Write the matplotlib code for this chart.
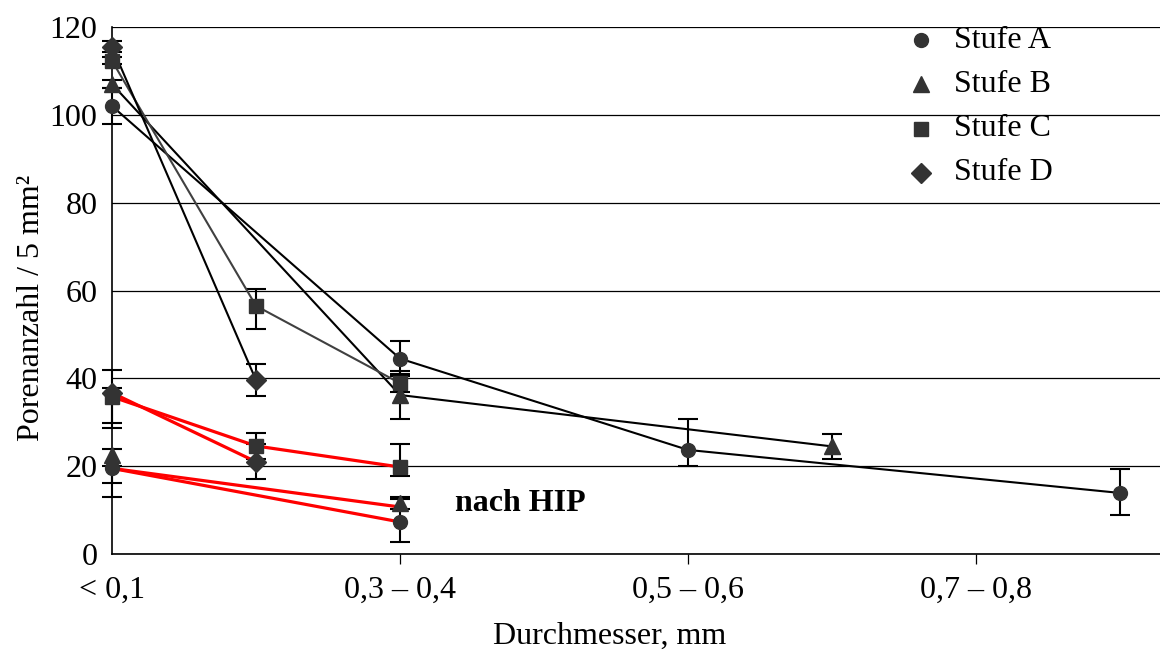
import matplotlib
matplotlib.use("Agg")
import matplotlib.pyplot as plt

plt.rcParams['font.family'] = ['Liberation Serif', 'DejaVu Serif']

# Category ticks on the diameter axis
tick_pos = [0, 2, 4, 6]
tick_labels = ['< 0,1', '0,3 – 0,4', '0,5 – 0,6', '0,7 – 0,8']
y_ticks = [0, 20, 40, 60, 80, 100, 120]

series_names = ['Stufe A', 'Stufe B', 'Stufe C', 'Stufe D']

# Before HIP: positions, pore counts, lower / upper error
a_x = [0, 2, 4, 7]
a_y = [102.0, 44.5, 23.7, 13.9]
a_lo = [4.0, 4.0, 3.6, 5.0]
a_hi = [4.0, 4.0, 7.0, 5.5]

b_x = [0, 2, 5]
b_y = [107.0, 36.2, 24.5]
b_lo = [1.0, 5.5, 2.8]
b_hi = [1.0, 5.5, 2.8]

c_x = [0, 1, 2]
c_y = [112.3, 56.5, 38.9]
c_lo = [0.8, 5.2, 2.0]
c_hi = [0.8, 3.9, 2.0]

d_x = [0, 1]
d_y = [115.5, 39.6]
d_lo = [1.2, 3.7]
d_hi = [1.2, 3.7]

# After HIP
ha_x = [0, 2]
ha_y = [19.5, 7.3]
ha_lo = [6.6, 4.6]
ha_hi = [0.5, 5.2]

hb_x = [0, 2]
hb_y = [22.6, 11.6]
hb_lo = [6.4, 1.3]
hb_hi = [1.2, 1.4]
hb_line = [19.5, 10.7]

hc_x = [0, 1, 2]
hc_y = [35.8, 24.6, 19.8]
hc_lo = [6.0, 3.0, 2.0]
hc_hi = [6.0, 3.0, 5.3]

hd_x = [0, 1]
hd_y = [36.7, 21.0]
hd_lo = [8.0, 4.0]
hd_hi = [1.0, 4.0]

W, H = 1160, 651
fig = plt.figure(figsize=(W / 100, H / 100), dpi=100)
ax = fig.add_axes([112 / W, 97 / H, 1048 / W, 527 / H])
ax.set_xlim(0, 1048 / 144)
ax.set_ylim(0, 120)

FS = 23
mk_col = '#333333'

# grid and axes
ax.set_yticks(y_ticks)
ax.set_yticklabels([str(v) for v in y_ticks], fontsize=FS)
ax.yaxis.grid(True, color='black', lw=0.9, zorder=0)
ax.set_axisbelow(True)
ax.tick_params(axis='y', length=0, pad=10.5)
ax.set_xticks(tick_pos)
ax.set_xticklabels(tick_labels, fontsize=FS)
ax.tick_params(axis='x', length=7, width=0.9, pad=9, direction='out')
ax.xaxis.get_major_ticks()[0].tick1line.set_visible(False)
for s in ['top', 'right']:
    ax.spines[s].set_visible(False)
for s in ['left', 'bottom']:
    ax.spines[s].set_linewidth(1.2)

# error bars
eb = dict(fmt='none', ecolor='black', elinewidth=1.5, capsize=7, capthick=1.5,
          clip_on=False, zorder=3)
for x, y, lo, hi in [(a_x, a_y, a_lo, a_hi), (b_x, b_y, b_lo, b_hi),
                     (c_x, c_y, c_lo, c_hi), (d_x, d_y, d_lo, d_hi),
                     (ha_x, ha_y, ha_lo, ha_hi), (hb_x, hb_y, hb_lo, hb_hi),
                     (hc_x, hc_y, hc_lo, hc_hi), (hd_x, hd_y, hd_lo, hd_hi)]:
    ax.errorbar(x, y, yerr=[lo, hi], **eb)

# connecting lines, before HIP
ax.plot(a_x, a_y, color='black', lw=1.5, zorder=4, clip_on=False)
ax.plot(b_x, b_y, color='black', lw=1.5, zorder=4, clip_on=False)
ax.plot(c_x, c_y, color='#404040', lw=1.5, zorder=4, clip_on=False)
ax.plot(d_x, d_y, color='black', lw=1.5, zorder=4, clip_on=False)

# connecting lines, after HIP
red = '#ff0000'
ax.plot(ha_x, ha_y, color=red, lw=2.3, zorder=4, clip_on=False)
ax.plot(hb_x, hb_line, color=red, lw=2.3, zorder=4, clip_on=False)
ax.plot(hc_x, hc_y, color=red, lw=2.3, zorder=4, clip_on=False)
ax.plot(hd_x, hd_y, color=red, lw=2.3, zorder=4, clip_on=False)

# markers
markers = ['o', '^', 's', 'D']
sizes = [10, 11, 10, 10]
for (x, y), m, ms in zip([(a_x, a_y), (b_x, b_y), (c_x, c_y), (d_x, d_y)], markers, sizes):
    ax.plot(x, y, ls='none', marker=m, ms=ms, color=mk_col, zorder=5, clip_on=False)
for (x, y), m, ms in zip([(ha_x, ha_y), (hb_x, hb_y), (hc_x, hc_y), (hd_x, hd_y)], markers, sizes):
    ax.plot(x, y, ls='none', marker=m, ms=ms, color=mk_col, zorder=5, clip_on=False)

ax.text(2.38, 11.4, 'nach HIP', fontsize=FS, fontweight='bold', va='center', ha='left')

# legend
leg_ms = [10, 11, 10, 10]
for i, (name, m, ms) in enumerate(zip(series_names, markers, leg_ms)):
    yy = 1 - (40 + 44.3 * i) / H
    fig.lines.append(plt.Line2D([921 / W], [yy], marker=m, ms=ms, color=mk_col,
                                ls='none', transform=fig.transFigure))
    fig.text(954 / W, yy, name, fontsize=FS, va='center', ha='left')

fig.text(610 / W, 1 - 636 / H, 'Durchmesser, mm', fontsize=FS, ha='center', va='center')
fig.text(32 / W, 1 - 308 / H, 'Porenanzahl / 5 mm²', fontsize=FS, rotation=90,
         ha='center', va='center')

fig.savefig('out.png', dpi=100)
